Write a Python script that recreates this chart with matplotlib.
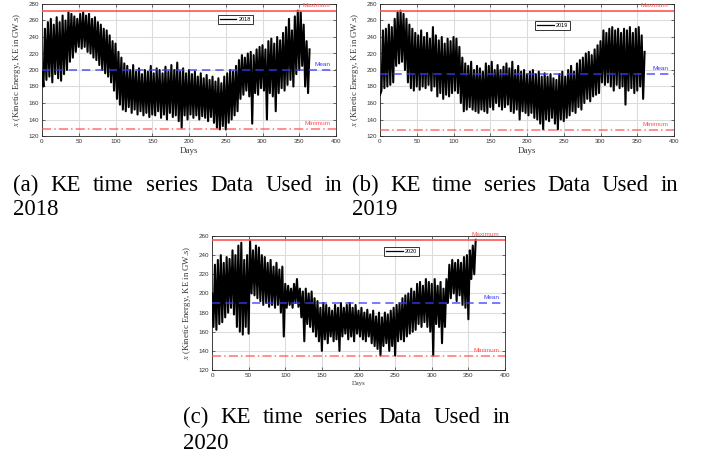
import numpy as np
import matplotlib
matplotlib.use("Agg")
import matplotlib.pyplot as plt
from matplotlib.transforms import IdentityTransform

plt.rcParams["mathtext.fontset"] = "stix"

# ---------------- data ----------------
# peaks at days 0,4,8,... and troughs at days 2,6,10,...
hi_2018 = [200, 250, 258, 262, 255, 264, 258, 266, 260, 270, 268, 265, 262, 268, 270, 266,
           268, 262, 264, 258, 255, 250, 248, 242, 235, 232, 222, 215, 208, 205, 200, 206,
           198, 202, 195, 200, 198, 205, 196, 202, 200, 196, 204, 198, 206, 200, 209, 198,
           202, 196, 200, 195, 198, 192, 196, 190, 194, 188, 192, 186, 190, 184, 192, 196,
           200, 198, 205, 212, 218, 215, 220, 222, 218, 225, 228, 230, 225, 235, 238, 232,
           240, 236, 245, 252, 262, 248, 265, 272, 270, 255, 235, 225]
lo_2018 = [180, 188, 192, 185, 195, 190, 187, 195, 200, 210, 215, 222, 228, 226, 228, 222,
           220, 215, 212, 206, 200, 196, 192, 185, 175, 165, 158, 152, 150, 155, 148, 152,
           146, 150, 145, 148, 143, 146, 145, 150, 142, 146, 140, 148, 143, 145, 138, 130,
           145, 140, 146, 142, 145, 140, 144, 142, 138, 143, 136, 130, 128, 132, 128, 136,
           140, 145, 150, 165, 170, 175, 168, 135, 172, 170, 178, 175, 140, 172, 168, 150,
           172, 178, 175, 182, 188, 180, 195, 200, 205, 180, 172]

hi_2019 = [170, 248, 250, 255, 252, 262, 270, 272, 268, 262, 255, 250, 245, 242, 248, 240,
           245, 238, 252, 242, 236, 240, 232, 238, 235, 240, 238, 228, 215, 208, 205, 210,
           200, 205, 202, 198, 208, 205, 210, 200, 206, 200, 204, 208, 202, 210, 200, 205,
           198, 200, 195, 198, 200, 195, 198, 192, 196, 192, 195, 190, 188, 195, 198, 192,
           200, 205, 198, 208, 212, 215, 220, 222, 218, 225, 230, 235, 248, 245, 250, 252,
           248, 250, 245, 250, 248, 252, 245, 250, 252, 242, 222]
lo_2019 = [175, 178, 180, 182, 185, 205, 208, 210, 200, 185, 178, 175, 180, 176, 180, 178,
           182, 175, 180, 168, 172, 165, 170, 168, 172, 175, 172, 160, 150, 152, 155, 152,
           150, 148, 152, 150, 148, 155, 152, 160, 156, 152, 155, 158, 150, 148, 152, 140,
           150, 148, 145, 148, 142, 140, 135, 128, 140, 138, 142, 135, 128, 140, 138, 142,
           145, 150, 148, 155, 152, 160, 165, 162, 168, 170, 172, 185, 182, 185, 180, 175,
           182, 178, 180, 158, 175, 178, 172, 175, 180, 165]

hi_2020 = [200, 230, 235, 240, 232, 238, 236, 245, 240, 250, 253, 235, 240, 255, 245, 250,
           248, 240, 238, 232, 235, 228, 232, 225, 228, 210, 208, 205, 210, 215, 205, 202,
           205, 200, 202, 195, 192, 185, 190, 188, 185, 182, 188, 185, 190, 185, 188, 190,
           185, 188, 182, 185, 180, 183, 178, 182, 176, 180, 175, 180, 178, 182, 185, 188,
           190, 195, 198, 200, 205, 202, 210, 212, 208, 215, 212, 210, 215, 208, 212, 205,
           215, 230, 235, 232, 235, 232, 238, 240, 245, 250, 256]
lo_2020 = [165, 162, 168, 170, 175, 180, 185, 178, 165, 160, 157, 165, 158, 200, 198, 195,
           192, 188, 190, 186, 188, 185, 188, 180, 155, 185, 188, 185, 190, 186, 175, 150,
           168, 165, 160, 155, 150, 140, 152, 148, 155, 150, 152, 140, 155, 158, 152, 155,
           150, 158, 155, 152, 150, 155, 148, 145, 142, 135, 145, 148, 140, 145, 135, 150,
           152, 150, 155, 158, 160, 162, 168, 165, 170, 165, 160, 135, 168, 165, 148, 165,
           190, 195, 200, 192, 198, 188, 185, 173, 215, 220]

years = ["2018", "2019", "2020"]
his = [hi_2018, hi_2019, hi_2020]
los = [lo_2018, lo_2019, lo_2020]
max_vals = [272.0, 272.0, 256.0]
mean_vals = [199.5, 195.0, 189.6]
min_vals = [128.3, 127.7, 134.5]
ylims = [(120, 280), (120, 280), (120, 260)]
captions = ["(a) KE time series Data Used in", "(b) KE time series Data Used in",
            "(c) KE time series Data Used in"]
xticks = [0, 50, 100, 150, 200, 250, 300, 350, 400]


def series(hi, lo):
    d = []
    v = []
    for i, h in enumerate(hi):
        d.append(4 * i)
        v.append(h)
        if i < len(lo):
            d.append(4 * i + 2)
            v.append(lo[i])
    return np.array(d), np.array(v)


W, H = 701, 457
fig = plt.figure(figsize=(W / 100, H / 100), dpi=100)

# axes rectangles in pixels: left, top, right, bottom
rects = [(42, 4, 336, 136), (380, 4, 674, 136), (212, 236, 505, 370)]
leg_pos = [(0.658, 0.883), (0.587, 0.84), (0.648, 0.884)]
days_fs = [6.5, 6.5, 4.8]

sans = "Liberation Sans"
serif = "Liberation Serif"
RED = "#ff5050"
BLUE = "#3a3aff"

for k in range(3):
    l, t, r, b = rects[k]
    ax = fig.add_axes([l / W, 1 - b / H, (r - l) / W, (b - t) / H])
    d, v = series(his[k], los[k])
    ax.plot(d, v, color="black", lw=1.5, label=years[k], zorder=3)
    ax.axhline(max_vals[k], color=RED, lw=1.3, alpha=0.9, zorder=4)
    ax.axhline(mean_vals[k], color=BLUE, lw=1.2, ls=(0, (5, 3)), alpha=0.8, zorder=4)
    ax.axhline(min_vals[k], color=RED, lw=1.1, ls=(0, (6, 2, 1, 2)), alpha=0.8, zorder=4)
    for lab, val, col in [("Maximum", max_vals[k], RED), ("Mean", mean_vals[k], BLUE),
                          ("Minimum", min_vals[k], RED)]:
        ax.annotate(lab, xy=(392, val), xytext=(0, 4), textcoords="offset points",
                    ha="right", va="center", color=col, fontsize=4.6, family=sans, zorder=5)
    ax.set_xlim(0, 400)
    ax.set_ylim(*ylims[k])
    ax.set_xticks(xticks)
    ax.set_yticks(np.arange(ylims[k][0], ylims[k][1] + 1, 20))
    ax.grid(True, color="#dcdcdc", lw=0.8, zorder=0)
    ax.set_axisbelow(True)
    ax.tick_params(direction="in", length=2, width=0.5, labelsize=4.5, pad=2,
                   top=True, right=True, colors="#333333", labelcolor="#333333")
    for lbl in ax.get_xticklabels() + ax.get_yticklabels():
        lbl.set_family(sans)
    for s in ax.spines.values():
        s.set_linewidth(0.6)
        s.set_color("#262626")
    ax.set_xlabel("Days", family=serif, fontsize=days_fs[k], color="#333333", labelpad=2)
    ax.set_ylabel(r"$x$ (Kinetic Energy, KE in GW.s)", family=serif, fontsize=6.3,
                  color="#333333", labelpad=4)
    leg = ax.legend(loc="center", bbox_to_anchor=leg_pos[k],
                    prop={"family": sans, "size": 4.0}, frameon=True, fancybox=False,
                    edgecolor="black", handlelength=3.0, handletextpad=0.4,
                    borderpad=0.35, borderaxespad=0)
    for hl in leg.get_lines():
        hl.set_linewidth(0.9)
    leg.get_frame().set_linewidth(0.7)
    leg.set_zorder(6)

# justified captions
cap_boxes = [(13, 342, 191, 215), (352, 678, 191, 215), (183, 510, 423, 449)]
cap_fs = 16.5
fig.canvas.draw()
renderer = fig.canvas.get_renderer()
for k in range(3):
    x0, x1, yb1, yb2 = cap_boxes[k]
    words = captions[k].split(" ")
    texts = [fig.text(0, 0, w, fontsize=cap_fs, family=serif, transform=IdentityTransform(),
                      va="baseline", ha="left") for w in words]
    widths = [t.get_window_extent(renderer).width for t in texts]
    gap = (x1 - x0 - sum(widths)) / (len(words) - 1)
    x = x0
    for t, w in zip(texts, widths):
        t.set_position((x, H - yb1))
        x += w + gap
    fig.text(x0, H - yb2, years[k], fontsize=cap_fs, family=serif,
             transform=IdentityTransform(), va="baseline", ha="left")

fig.savefig("out.png", dpi=100)
